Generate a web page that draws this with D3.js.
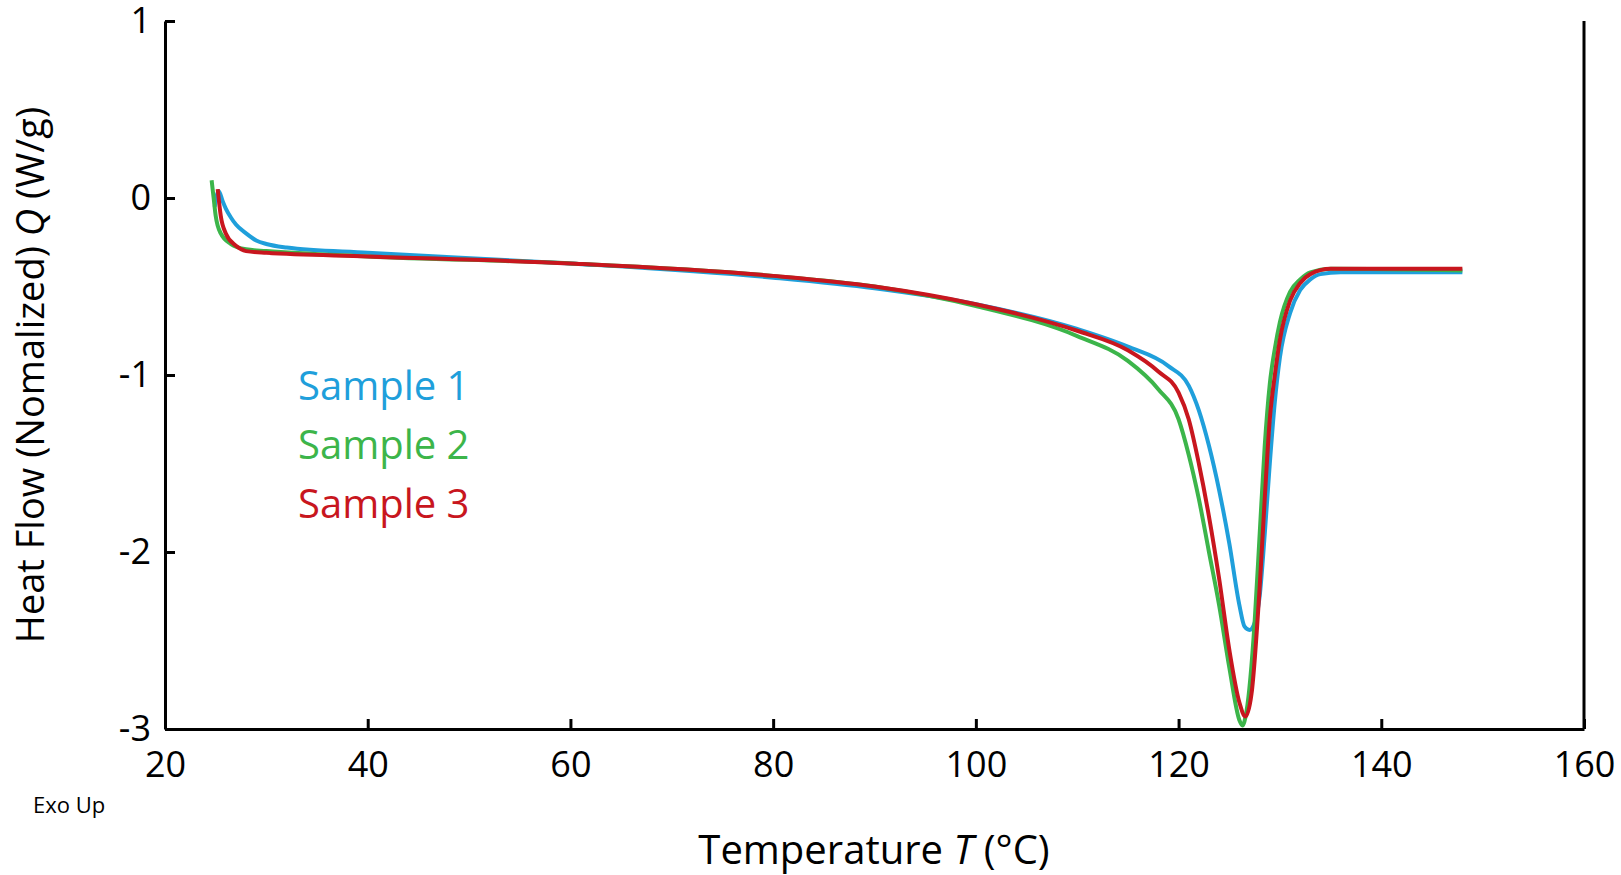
<!DOCTYPE html>
<html><head><meta charset="utf-8">
<script src="https://cdn.jsdelivr.net/npm/d3@7"></script>
<style>body{margin:0;background:#fff}text{font-family:"Open Sans",sans-serif}</style>
</head><body><svg id="c" width="1621" height="875"></svg>
<script>
const xTicks = [20, 40, 60, 80, 100, 120, 140, 160];
const yTicks = [1, 0, -1, -2, -3];
const seriesNames = ["Sample 1", "Sample 2", "Sample 3"];
const colors = ["#1f9fdb", "#3cb54a", "#c8161e"];
const sample1 = [[24.9,-0.05],[25.3,0.04],[25.7,-0.02],[26,-0.06],[26.5,-0.11],[27,-0.15],[28,-0.2],[29,-0.24],[30,-0.26],[32,-0.28],[40,-0.31],[60,-0.37],[80,-0.45],[90,-0.51],[100,-0.6],[110,-0.74],[115,-0.84],[119,-0.95],[121,-1.06],[122,-1.2],[123,-1.4],[124,-1.65],[125,-1.95],[126,-2.3],[126.5,-2.42],[127,-2.44],[127.5,-2.4],[128,-2.25],[128.5,-1.9],[129,-1.5],[129.5,-1.15],[130,-0.9],[131,-0.65],[132,-0.52],[133,-0.46],[134,-0.43],[136,-0.42],[148,-0.42]];
const sample2 = [[24.6,0.1],[24.8,0.0],[25,-0.1],[25.5,-0.2],[26.5,-0.26],[28,-0.29],[30,-0.3],[40,-0.33],[60,-0.37],[80,-0.44],[90,-0.5],[100,-0.61],[110,-0.78],[115,-0.92],[118,-1.08],[120,-1.25],[121,-1.45],[122,-1.7],[123,-2.0],[124,-2.3],[125,-2.65],[126,-2.95],[126.3,-2.98],[126.7,-2.9],[127.5,-2.4],[128,-1.9],[128.5,-1.4],[129,-1.05],[129.5,-0.85],[130,-0.7],[131,-0.53],[132,-0.46],[133,-0.42],[135,-0.4],[148,-0.41]];
const sample3 = [[25.2,0.05],[25.5,-0.1],[26,-0.2],[27,-0.27],[28,-0.3],[30,-0.31],[40,-0.33],[60,-0.37],[80,-0.44],[90,-0.5],[100,-0.6],[110,-0.75],[115,-0.86],[118,-0.98],[120,-1.1],[121,-1.25],[122,-1.5],[123,-1.8],[124,-2.15],[125,-2.55],[126,-2.85],[126.6,-2.93],[127.2,-2.8],[128,-2.2],[128.5,-1.7],[129,-1.25],[129.5,-1.0],[130,-0.8],[131,-0.58],[132,-0.48],[133,-0.43],[135,-0.4],[148,-0.4]];

const svg = d3.select("#c");
const x = d3.scaleLinear().domain([20, 160]).range([165, 1584]);
const y = d3.scaleLinear().domain([-3, 1]).range([729, 21]);

// axes
const xa = svg.append("g").attr("transform", `translate(0,${y(-3)})`)
  .call(d3.axisBottom(x).tickValues(xTicks).tickSizeInner(-10).tickSizeOuter(0).tickPadding(22));
const ya = svg.append("g").attr("transform", `translate(${x(20)},0)`)
  .call(d3.axisLeft(y).tickValues(yTicks).tickFormat(d => String(d)).tickSizeInner(-10).tickSizeOuter(0).tickPadding(14));
svg.append("line").attr("x1", x(160)).attr("x2", x(160)).attr("y1", y(1)).attr("y2", y(-3))
  .attr("stroke", "#000").attr("stroke-width", 3);
[xa, ya].forEach(a => {
  a.selectAll("path,line").attr("stroke", "#000").attr("stroke-width", 3);
  a.selectAll("text").attr("font-size", 36).attr("fill", "#000").style("font-family", "Open Sans, sans-serif");
});

// lines
const line = d3.line().x(d => x(d[0])).y(d => y(d[1])).curve(d3.curveMonotoneX);
[sample1, sample2, sample3].forEach((s, i) => {
  svg.append("path").datum(s).attr("d", line).attr("fill", "none")
    .attr("stroke", colors[i]).attr("stroke-width", 4);
});

// legend
seriesNames.forEach((n, i) => {
  svg.append("text").attr("x", 298).attr("y", 400 + i * 59).attr("font-size", 40)
    .attr("fill", colors[i]).text(n);
});

// labels
svg.append("text").attr("x", 874).attr("y", 864).attr("text-anchor", "middle").attr("font-size", 40)
  .html('Temperature <tspan font-style="italic">T</tspan> (°C)');
svg.append("text").attr("transform", `translate(44,${y(-1)}) rotate(-90)`).attr("text-anchor", "middle")
  .attr("font-size", 38).html('Heat Flow (Nomalized) <tspan font-style="italic">Q</tspan> (W/g)');
svg.append("text").attr("x", 33).attr("y", 813).attr("font-size", 22).text("Exo Up");
</script></body></html>
